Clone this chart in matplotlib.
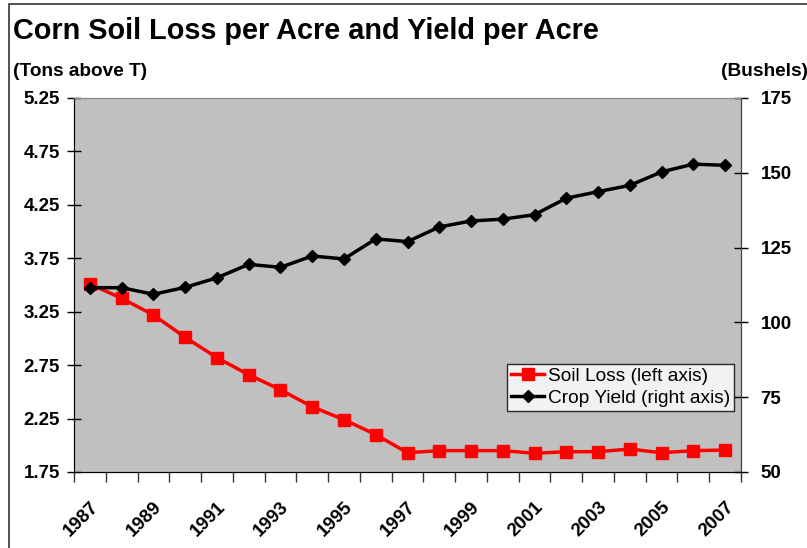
import matplotlib.pyplot as plt
import matplotlib.lines as mlines
import numpy as np

years = list(range(1987, 2008))
soil_loss = [3.51, 3.375, 3.22, 3.01, 2.82, 2.66, 2.52, 2.36, 2.24, 2.10, 1.93,
             1.95, 1.95, 1.95, 1.925, 1.94, 1.94, 1.965, 1.93, 1.95, 1.955]
crop_yield = [111.6, 111.6, 109.4, 111.7, 114.9, 119.4, 118.4, 122.2, 121.2, 127.9, 127.0,
              131.9, 133.9, 134.5, 136.0, 141.5, 143.7, 145.8, 150.3, 152.9, 152.5]
left_ticks = [1.75, 2.25, 2.75, 3.25, 3.75, 4.25, 4.75, 5.25]
right_ticks = [50, 75, 100, 125, 150, 175]

plt.rcParams['font.family'] = ['Liberation Sans', 'DejaVu Sans']

fig = plt.figure(figsize=(8.07, 5.48), dpi=100, facecolor="white")
ax1 = fig.add_axes([74/807, 1-472/548, (741-74)/807, (472-98)/548])
ax2 = ax1.twinx()

x = np.arange(len(years))
ax1.set_facecolor("#c0c0c0")
l1, = ax1.plot(x, soil_loss, color="#ff0000", marker="s", markersize=8, linewidth=2.5,
               label="Soil Loss (left axis)", zorder=3)
l2, = ax2.plot(x, crop_yield, color="black", marker="D", markersize=6, linewidth=2.5,
               label="Crop Yield (right axis)", zorder=3)

ax1.set_xlim(-0.5, len(years) - 0.5)
ax1.set_ylim(1.75, 5.25)
ax2.set_ylim(50, 175)
ax1.set_yticks(left_ticks)
ax1.set_yticklabels(["%.2f" % v for v in left_ticks], fontsize=13.5, fontweight="bold")
ax2.set_yticks(right_ticks)
ax2.set_yticklabels([str(v) for v in right_ticks], fontsize=13.5, fontweight="bold")

# category boundaries as tick marks, labels every other year at centres
ax1.set_xticks(np.arange(-0.5, len(years), 1.0))
ax1.set_xticklabels([])
ax1.set_xticks(x[::2], minor=True)
ax1.set_xticklabels([str(y) for y in years[::2]], minor=True, rotation=45, ha="right",
                    rotation_mode="anchor", fontsize=13.5, fontweight="bold")
ax1.tick_params(axis="x", which="major", direction="out", length=7, width=1, color="#333333")
ax1.tick_params(axis="x", which="minor", length=0, pad=19)
ax1.tick_params(axis="y", direction="inout", length=10, width=1, pad=5)
ax2.tick_params(axis="y", direction="inout", length=10, width=1, pad=9)

ax1.spines["top"].set_color("#888888")
ax2.spines["top"].set_color("#888888")
ax1.spines["left"].set_color("#222222")
ax1.spines["bottom"].set_color("#222222")
ax2.spines["right"].set_color("#444444")

leg = ax2.legend(handles=[l1, l2], loc="lower right", bbox_to_anchor=(0.99, 0.163),
                 fontsize=13.8, frameon=True, fancybox=False, borderpad=0.2,
                 handlelength=1.75, handletextpad=0.2, labelspacing=0.25, borderaxespad=0)
leg.get_frame().set_edgecolor("black")
leg.get_frame().set_linewidth(1)

fig.text(13/807, 1-31/548, "Corn Soil Loss per Acre and Yield per Acre", fontsize=20.8,
         fontweight="bold", va="center", ha="left")
fig.text(13/807, 1-71/548, "(Tons above T)", fontsize=13.7, fontweight="bold",
         va="center", ha="left")
fig.text(808/807, 1-71/548, "(Bushels)", fontsize=13.7, fontweight="bold",
         va="center", ha="right")

# outer chart border (only left and top edges visible in the crop)
fig.add_artist(mlines.Line2D([9/807, 9/807, 1], [0, 1-4/548, 1-4/548],
                             transform=fig.transFigure, color="#333333", linewidth=1.2))

fig.savefig("out.png", dpi=100)
